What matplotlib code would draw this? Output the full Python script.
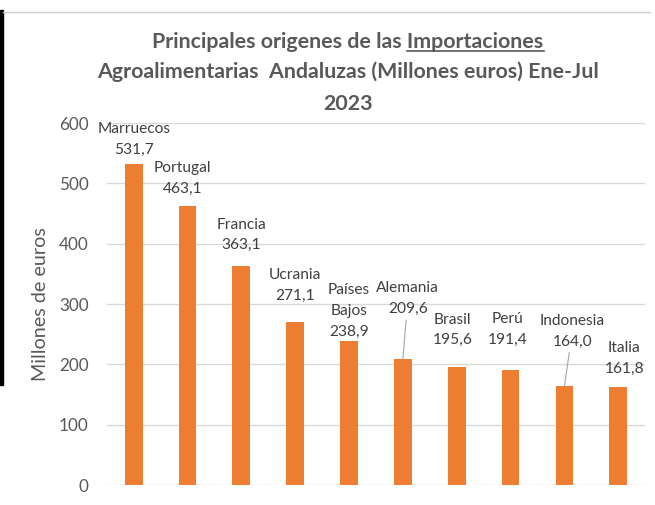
import matplotlib
matplotlib.use("Agg")
import matplotlib.pyplot as plt
from matplotlib.patches import Rectangle
from matplotlib.lines import Line2D

plt.rcParams['font.family'] = ['Lato', 'DejaVu Sans']

# ---------------- Data ----------------
paises = ["Marruecos", "Portugal", "Francia", "Ucrania", "Países\nBajos",
          "Alemania", "Brasil", "Perú", "Indonesia", "Italia"]
valores = [531.7, 463.1, 363.1, 271.1, 238.9, 209.6, 195.6, 191.4, 164.0, 161.8]
yticks = [0, 100, 200, 300, 400, 500, 600]

# label offsets from bar top (pixels), and which ones get a leader line
label_offsets = [(0, 25), (-5, 27), (0, 31), (0, 36), (0, 30),
                 (5, 60), (-4, 37), (-3, 40), (8, 55), (6, 29)]
leader = [False, False, False, False, False, True, False, False, True, False]

bar_color = "#ED7D31"
text_grey = "#595959"
label_grey = "#404040"

fig = plt.figure(figsize=(6.55, 5.05), dpi=100)
ax = fig.add_axes([0.163, 0.0396, 0.822, 0.7165])

x = range(len(paises))
ax.bar(x, valores, width=0.33, color=bar_color, zorder=3)

ax.set_ylim(0, 600)
ax.set_xlim(-0.5, len(paises) - 0.5)
ax.set_yticks(yticks)
ax.set_yticklabels([str(t) for t in yticks], fontsize=12.3, color=text_grey)
ax.set_xticks([])
ax.tick_params(axis="y", length=0, pad=13)
ax.grid(axis="y", color="#d9d9d9", lw=1, zorder=0)
for s in ax.spines.values():
    s.set_visible(False)
ax.set_ylabel("Millones de euros", fontsize=14.2, color=text_grey, labelpad=7)

for i, (name, v) in enumerate(zip(paises, valores)):
    dx, dy = label_offsets[i]
    txt = f"{name}\n{v:.1f}".replace(".", ",")
    arrow = None
    if leader[i]:
        arrow = dict(arrowstyle="-", color="#a6a6a6", lw=0.8, shrinkA=1, shrinkB=0)
    ax.annotate(txt, xy=(i, v), xytext=(dx, dy), textcoords="offset pixels",
                ha="center", va="center", fontsize=11.2, color=label_grey,
                linespacing=1.6, arrowprops=arrow, zorder=4)

# ---------------- Title ----------------
tx = 348 / 655
title_fs = 15.4
title_lines = ["Principales origenes de las Importaciones",
               "Agroalimentarias  Andaluzas (Millones euros) Ene-Jul",
               "2023"]
title_y = [463, 433, 401]
t_objs = []
for line, yy in zip(title_lines, title_y):
    t_objs.append(fig.text(tx, yy / 505, line, ha="center", va="center",
                           fontsize=title_fs, fontweight="bold", color=text_grey))

# underline "Importaciones"
fig.canvas.draw()
r = fig.canvas.get_renderer()
bb = t_objs[0].get_window_extent(r)
tmp = fig.text(0, 0, "Importaciones", fontsize=title_fs, fontweight="bold")
w = tmp.get_window_extent(r).width
tmp.remove()
uy = bb.y0 + 1
fig.add_artist(Line2D([(bb.x1 - w) / 655, bb.x1 / 655], [uy / 505, uy / 505],
                      color=text_grey, lw=1.2))

# screenshot frame bits
fig.add_artist(Rectangle((0, 120 / 505), 3 / 655, 375 / 505, color="black",
                         transform=fig.transFigure))
fig.add_artist(Line2D([3 / 655, 650 / 655], [493 / 505, 493 / 505],
                      color="#d0d0d0", lw=1))

fig.savefig("out.png", dpi=100)
